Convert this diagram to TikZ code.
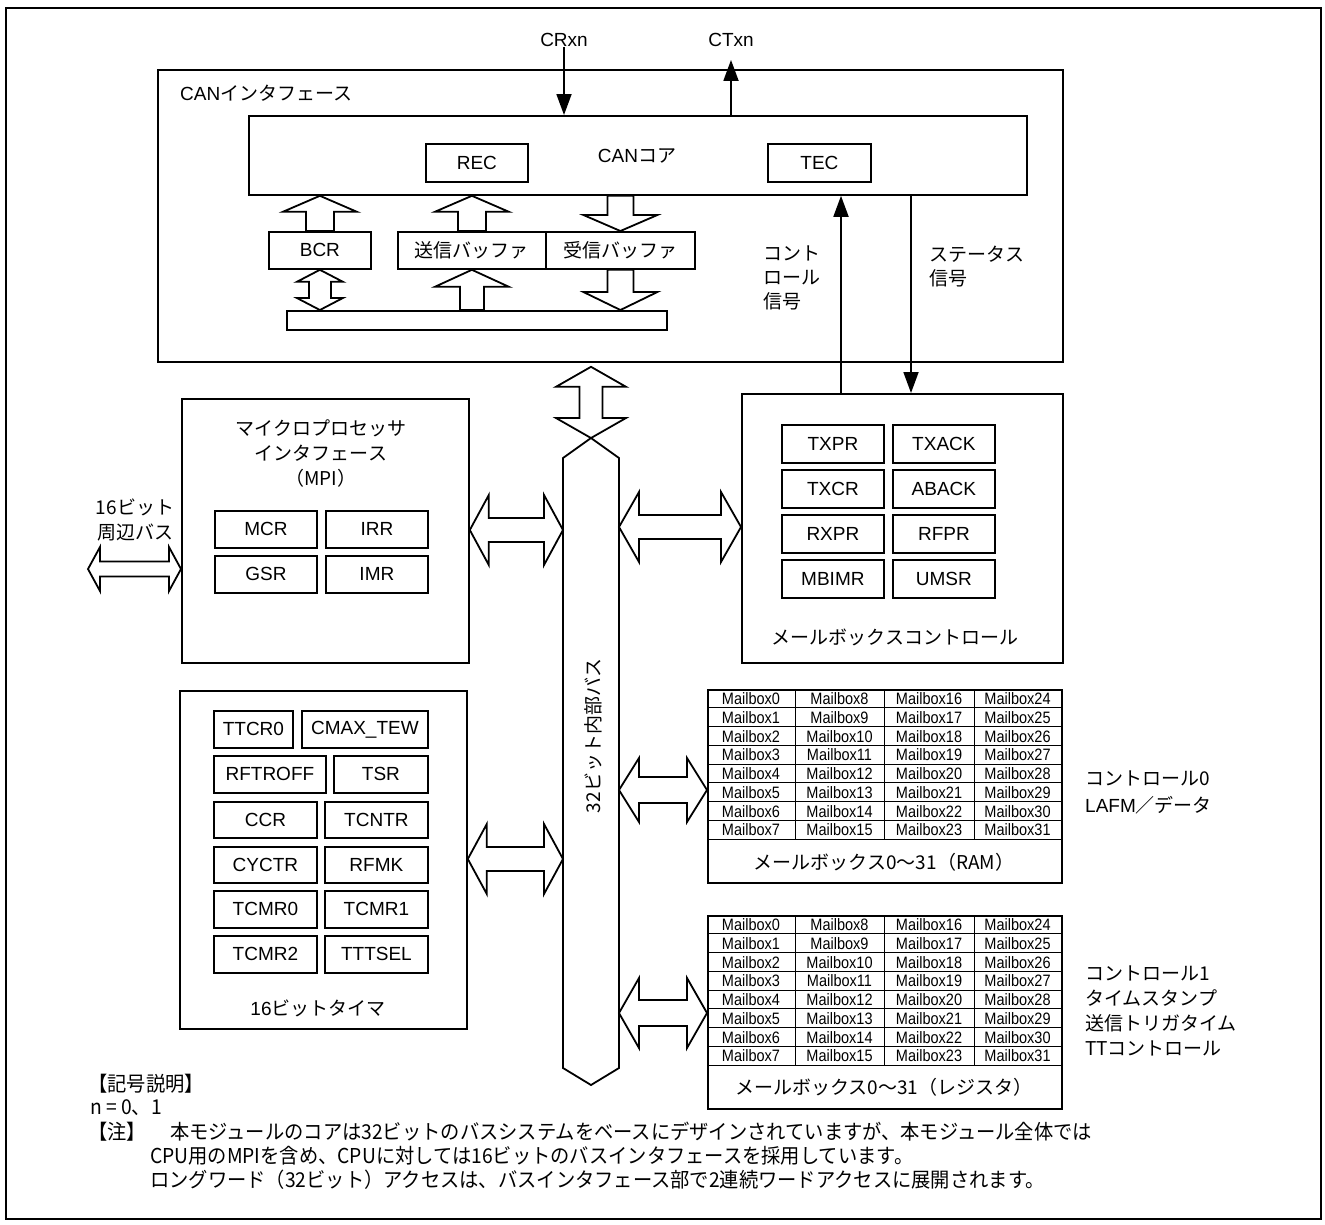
\documentclass[tikz,border=0pt]{standalone}
\usepackage{fontspec}
\setmainfont{Liberation Sans}
\newfontfamily\jp{Noto Sans CJK JP}
\newfontfamily\jpn[FakeStretch=0.94]{Noto Sans CJK JP}
\newfontfamily\mbf[FakeStretch=0.88]{Liberation Sans}
\usetikzlibrary{arrows.meta,calc}
\newcommand\mybox[6]{\node[box, minimum width={(#4-#2)*1pt}, minimum height={(#5-#3)*1pt}] (#1) at (#2,#3) {#6};}
% block arrows: up (tip, tail), down (tip, tail), vertical double (top tip, bottom tip), horizontal double (left tip, right tip)
\newcommand\bkup[5]{\draw[blk] let \p1=#1, \p2=#2 in (\x1,\y1) -- (\x1+#4pt,\y1-#3pt) -- (\x1+#5pt,\y1-#3pt) -- (\x1+#5pt,\y2) -- (\x1-#5pt,\y2) -- (\x1-#5pt,\y1-#3pt) -- (\x1-#4pt,\y1-#3pt) -- cycle;}
\newcommand\bkdown[5]{\draw[blk] let \p1=#1, \p2=#2 in (\x1,\y1) -- (\x1+#4pt,\y1+#3pt) -- (\x1+#5pt,\y1+#3pt) -- (\x1+#5pt,\y2) -- (\x1-#5pt,\y2) -- (\x1-#5pt,\y1+#3pt) -- (\x1-#4pt,\y1+#3pt) -- cycle;}
\newcommand\bkvd[5]{\draw[blk] let \p1=#1, \p2=#2 in (\x1,\y1) -- (\x1+#4pt,\y1-#3pt) -- (\x1+#5pt,\y1-#3pt) -- (\x1+#5pt,\y2+#3pt) -- (\x1+#4pt,\y2+#3pt) -- (\x1,\y2) -- (\x1-#4pt,\y2+#3pt) -- (\x1-#5pt,\y2+#3pt) -- (\x1-#5pt,\y1-#3pt) -- (\x1-#4pt,\y1-#3pt) -- cycle;}
\newcommand\bkhd[5]{\draw[blk] let \p1=#1, \p2=#2 in (\x1,\y1) -- (\x1+#3pt,\y1+#4pt) -- (\x1+#3pt,\y1+#5pt) -- (\x2-#3pt,\y1+#5pt) -- (\x2-#3pt,\y1+#4pt) -- (\x2,\y1) -- (\x2-#3pt,\y1-#4pt) -- (\x2-#3pt,\y1-#5pt) -- (\x1+#3pt,\y1-#5pt) -- (\x1+#3pt,\y1-#4pt) -- cycle;}
\begin{document}
\begin{tikzpicture}[x=1pt,y=-1pt,
  every node/.style={font=\fontsize{19}{23}\selectfont, inner sep=0pt},
  box/.style={draw, line width=1.8pt, anchor=north west, inner sep=0pt},
  blk/.style={draw, line width=1.8pt, line join=miter},
  sig/.style={line width=1.8pt, -{Triangle[length=21pt,width=15pt]}},
  gridline/.style={line width=0.9pt},
  mbtxt/.style={font=\fontsize{16.5}{18}\selectfont\mbf},
  jplbl/.style={anchor=north west, align=left, font={\fontsize{19}{24}\selectfont\jp}},
  fnote/.style={anchor=west, font={\fontsize{20.5}{24}\selectfont\jpn}}
]
\useasboundingbox (0,0) rectangle (1325,1224);
\node[box, minimum width=1315, minimum height=1211] (frame) at (5,7) {};

% ---------- CAN interface ----------
\mybox{can}{157}{69}{1062}{361}{}
\node[anchor=west] (cantitle) at (180,93) {CAN{\jp インタフェース}};
\mybox{core}{248}{115}{1026}{194}{}
\mybox{rec}{425}{143}{527}{181}{REC}
\node (coretitle) at (637,156) {CAN{\jp コア}};
\mybox{tec}{767}{143}{870}{181}{TEC}
\mybox{bcr}{268}{231}{370}{268}{BCR}
\mybox{txbuf}{397}{231}{545}{268}{{\jp 送信バッファ}}
\mybox{rxbuf}{545}{231}{694}{268}{{\jp 受信バッファ}}
\mybox{bar}{286}{310}{666}{329}{}

\bkup{(bcr.north |- core.south)}{(bcr.north)}{16}{37}{14}
\bkvd{(bcr.south)}{(bcr.south |- bar.north)}{12}{23}{11}
\bkup{(txbuf.north |- core.south)}{(txbuf.north)}{16}{37}{14}
\bkup{(txbuf.south)}{(txbuf.south |- bar.north)}{17}{37}{12}
\bkdown{(rxbuf.north)}{(rxbuf.north |- core.south)}{16}{37}{13}
\bkdown{(rxbuf.south |- bar.north)}{(rxbuf.south)}{18}{37}{13}

\node (crxn) at (564,40) {CRxn};
\node (ctxn) at (731,40) {CTxn};
\coordinate (ctxntip) at ($(ctxn.south)+(0,13)$);
\draw[sig] (crxn.south) -- (crxn.south |- core.north);
\draw[sig] (ctxn.south |- core.north) -- (ctxntip);

% ---------- mailbox control ----------
\mybox{mbc}{741}{393}{1062}{662}{}
\mybox{txpr}{781}{424}{883}{462}{TXPR}
\mybox{txack}{892}{424}{994}{462}{TXACK}
\mybox{txcr}{781}{469}{883}{507}{TXCR}
\mybox{aback}{892}{469}{994}{507}{ABACK}
\mybox{rxpr}{781}{514}{883}{552}{RXPR}
\mybox{rfpr}{892}{514}{994}{552}{RFPR}
\mybox{mbimr}{781}{559}{883}{597}{MBIMR}
\mybox{umsr}{892}{559}{994}{597}{UMSR}
\node (mbctitle) at (895,637) {\jp メールボックスコントロール};

\coordinate (ctlx) at (841,0);
\coordinate (stx) at (911,0);
\draw[sig] (ctlx |- mbc.north) -- (ctlx |- core.south);
\draw[sig] (stx |- core.south) -- (stx |- mbc.north);
\node[jplbl] (ctllbl) at (763,246) {コント\\ロール\\信号};
\node[jplbl] (stlbl) at (929,246) {ステータス\\信号};

% ---------- MPI ----------
\mybox{mpi}{181}{398}{468}{662}{}
\node[align=center, font={\fontsize{19}{25}\selectfont\jp}] (mpititle) at (321,454) {マイクロプロセッサ\\インタフェース\\（MPI）};
\mybox{mcr}{214}{510}{316}{547}{MCR}
\mybox{irr}{325}{510}{427}{547}{IRR}
\mybox{gsr}{214}{555}{316}{592}{GSR}
\mybox{imr}{325}{555}{427}{592}{IMR}
\node[align=center, font={\fontsize{19}{25}\selectfont\jp}] (pblbl) at (135,520) {16ビット\\周辺バス};
\coordinate (pbtip) at (88,569);
\bkhd{(pbtip)}{(mpi.west |- pbtip)}{12}{22}{7.5}

% ---------- 16-bit timer ----------
\mybox{tmr}{179}{690}{466}{1028}{}
\mybox{ttcr}{213}{710}{292}{747}{TTCR0}
\mybox{cmax}{301}{710}{427}{747}{CMAX\_TEW}
\mybox{rftr}{213}{755}{325}{792}{RFTROFF}
\mybox{tsr}{333}{755}{427}{792}{TSR}
\mybox{ccr}{213}{801}{316}{837}{CCR}
\mybox{tcntr}{324}{801}{427}{837}{TCNTR}
\mybox{cyctr}{213}{846}{316}{882}{CYCTR}
\mybox{rfmk}{324}{846}{427}{882}{RFMK}
\mybox{tcmra}{213}{890}{316}{927}{TCMR0}
\mybox{tcmrb}{324}{890}{427}{927}{TCMR1}
\mybox{tcmrc}{213}{935}{316}{972}{TCMR2}
\mybox{ttts}{324}{935}{427}{972}{TTTSEL}
\node (tmrtitle) at (318,1008) {16{\jp ビットタイマ}};

% ---------- internal bus ----------
\coordinate (busTop) at (591,438);
\coordinate (busTL) at (563,458);
\coordinate (busTR) at (619,458);
\coordinate (busBL) at (563,1068);
\coordinate (busBR) at (619,1068);
\coordinate (busBot) at (591,1085);
\draw[blk] (busTop) -- (busTR) -- (busBR) -- (busBot) -- (busBL) -- (busTL) -- cycle;
\node[rotate=90, font={\fontsize{19}{23}\selectfont\jp}] (buslbl) at (593,736) {32ビット内部バス};
\coordinate (busarr) at ($(can.south -| busTop)+(0,4)$);
\bkvd{(busarr)}{(busTop)}{20}{35}{11.5}

% ---------- mailbox tables ----------
\mybox{ram}{707}{689}{1061}{882}{}
\mybox{reg}{707}{915}{1061}{1108}{}
\foreach \tb/\ty in {ram/689, reg/915}{
  \foreach \k in {1,...,8} \draw[gridline] (707,\ty+\k*18.75) -- (1061,\ty+\k*18.75);
  \foreach \vx in {795,884,974} \draw[gridline] (\vx,\ty) -- (\vx,\ty+150);
  \foreach \cx [count=\c from 0] in {751,839.5,929,1017.5}
    \foreach \r in {0,...,7}{
      \pgfmathtruncatemacro\n{\c*8+\r}
      \node[mbtxt] (\tb-\n) at (\cx,\ty+9.6+\r*18.75) {Mailbox\n};
    }
}
\node (ramtitle) at (884,862) {\jp メールボックス0〜31（RAM）};
\node (regtitle) at (884,1087) {\jp メールボックス0〜31（レジスタ）};
\node[anchor=west] (ramlblA) at (1085,778) {\jp コントロール0};
\node[anchor=west] (ramlblB) at (1085,805) {LAFM{\jp ／データ}};
\node[jplbl, font={\fontsize{19}{25}\selectfont\jp}] (reglbl) at (1085,966) {コントロール1\\タイムスタンプ\\送信トリガタイム\\TTコントロール};

% ---------- bus connections ----------
\coordinate (yA) at (0,530);
\coordinate (yB) at (0,527);
\coordinate (yC) at (0,859);
\coordinate (yD) at (0,790);
\coordinate (yE) at (0,1013);
\bkhd{(mpi.east |- yA)}{(busTL |- yA)}{19}{35}{12}
\bkhd{(busTR |- yB)}{(mbc.west |- yB)}{20}{35}{12}
\bkhd{(tmr.east |- yC)}{(busTL |- yC)}{19}{35}{12}
\bkhd{(busTR |- yD)}{(ram.west |- yD)}{20}{32}{13}
\bkhd{(busTR |- yE)}{(reg.west |- yE)}{20}{35}{13}

% ---------- notes ----------
\node[fnote] (fn1) at (88,1084) {【記号説明】};
\node[fnote] (fn2) at (90,1108) {n = 0、1};
\node[fnote] (fn3) at (88,1132) {【注】};
\node[fnote] (fn4) at (170,1132) {本モジュールのコアは32ビットのバスシステムをベースにデザインされていますが、本モジュール全体では};
\node[fnote] (fn5) at (150,1156) {CPU用のMPIを含め、CPUに対しては16ビットのバスインタフェースを採用しています。};
\node[fnote] (fn6) at (150,1180) {ロングワード（32ビット）アクセスは、バスインタフェース部で2連続ワードアクセスに展開されます。};
\end{tikzpicture}
\end{document}
